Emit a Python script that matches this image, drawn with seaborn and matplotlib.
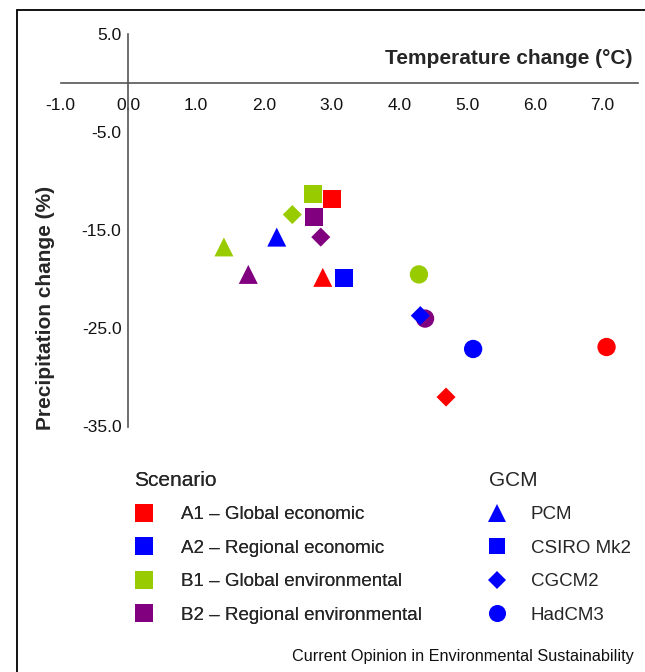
import matplotlib
matplotlib.use("Agg")
import matplotlib.pyplot as plt
from matplotlib.lines import Line2D
import seaborn as sns
import pandas as pd

# ---- data ----
scenarios = ["A1", "A2", "B1", "B2"]
scenario_labels = ["A1 – Global economic", "A2 – Regional economic",
                   "B1 – Global environmental", "B2 – Regional environmental"]
scenario_colors = ["#FF0000", "#0000FF", "#99CC00", "#800080"]
gcms = ["PCM", "CSIRO Mk2", "CGCM2", "HadCM3"]
gcm_markers = ["^", "s", "D", "o"]

# values ordered as gcms: PCM, CSIRO Mk2, CGCM2, HadCM3
temp_A1 = [2.87, 3.00, 4.69, 7.06]
precip_A1 = [-19.8, -11.8, -32.0, -26.9]
temp_A2 = [2.19, 3.19, 4.31, 5.09]
precip_A2 = [-15.7, -19.9, -23.7, -27.1]
temp_B1 = [1.41, 2.73, 2.42, 4.29]
precip_B1 = [-16.7, -11.3, -13.4, -19.5]
temp_B2 = [1.77, 2.74, 2.84, 4.38]
precip_B2 = [-19.5, -13.7, -15.7, -24.0]

x_ticks = [-1.0, 0.0, 1.0, 2.0, 3.0, 4.0, 5.0, 6.0, 7.0]
y_ticks = [5.0, -5.0, -15.0, -25.0, -35.0]

temps = {"A1": temp_A1, "A2": temp_A2, "B1": temp_B1, "B2": temp_B2}
precs = {"A1": precip_A1, "A2": precip_A2, "B1": precip_B1, "B2": precip_B2}
rows = []
for sc in scenarios:
    for g, t, p in zip(gcms, temps[sc], precs[sc]):
        rows.append({"scenario": sc, "gcm": g, "temp": t, "precip": p})
df = pd.DataFrame(rows)

# ---- style ----
sns.set_style("white")
plt.rcParams["font.family"] = ["Liberation Sans", "DejaVu Sans"]

W, H = 645, 672
fig = plt.figure(figsize=(W / 100, H / 100), dpi=100)
ax = fig.add_axes([60.7 / W, (H - 426.5) / H, (637.7 - 60.7) / W, 392.5 / H])

palette = dict(zip(scenarios, scenario_colors))
marker_sizes = {"PCM": 187, "CSIRO Mk2": 168, "CGCM2": 94, "HadCM3": 174}
# draw circles first so diamonds sit on top
for g, m in reversed(list(zip(gcms, gcm_markers))):
    sub = df[df["gcm"] == g]
    sns.scatterplot(data=sub, x="temp", y="precip", hue="scenario",
                    palette=palette, marker=m, s=marker_sizes[g],
                    linewidth=0, legend=False, ax=ax, zorder=3)

ax.set_xlim(-1.0, 7.52)
ax.set_ylim(-35.0, 5.0)
ax.set_facecolor("white")

axis_col = "#555555"
for side in ["top", "right"]:
    ax.spines[side].set_visible(False)
ax.spines["left"].set_position(("data", 0))
ax.spines["bottom"].set_position(("data", 0))
for side in ["left", "bottom"]:
    ax.spines[side].set_color(axis_col)
    ax.spines[side].set_linewidth(1.2)

ax.set_xticks(x_ticks)
ax.set_xticklabels([f"{v:.1f}" for v in x_ticks])
ax.set_yticks(y_ticks)
ax.set_yticklabels([f"{v:.1f}" for v in y_ticks])
ax.tick_params(axis="x", direction="out", length=4, width=1.1, color=axis_col,
               labelsize=12.5, pad=7, labelcolor="#111111")
ax.tick_params(axis="y", direction="out", length=4, width=1.1, color=axis_col,
               labelsize=12.5, pad=1, labelcolor="#111111")

ax.set_xlabel("Temperature change (°C)", fontsize=15, fontweight="bold",
              ha="right", va="center")
ax.xaxis.set_label_coords((633 - 60.7) / (637.7 - 60.7), (426.5 - 58) / 392.5)
ax.set_ylabel("Precipitation change (%)", fontsize=15, fontweight="bold",
              ha="center", va="center")
ax.yaxis.set_label_coords((45 - 60.7) / (637.7 - 60.7), (426.5 - 307.5) / 392.5)

# ---- legends ----
leg_top = 1 - 470.5 / H
sc_handles = [Line2D([], [], marker="s", linestyle="None", color=c,
                     markeredgewidth=0, markersize=12.3) for c in scenario_colors]
leg1 = fig.legend(sc_handles, scenario_labels, title="Scenario",
                  loc="upper left", bbox_to_anchor=(134 / W, leg_top),
                  frameon=False, fontsize=13.5, title_fontsize=15,
                  alignment="left", borderpad=0, borderaxespad=0,
                  handlelength=1.1, handletextpad=1.39, labelspacing=0.88)
fig.add_artist(leg1)

gcm_handle_sizes = {"^": 12.5, "s": 12.0, "D": 8.7, "o": 12.3}
gcm_handles = [Line2D([], [], marker=m, linestyle="None", color="#0000FF",
                      markeredgewidth=0, markersize=gcm_handle_sizes[m])
               for m in gcm_markers]
leg2 = fig.legend(gcm_handles, gcms, title="GCM",
                  loc="upper left", bbox_to_anchor=(489 / W, leg_top),
                  frameon=False, fontsize=13.5, title_fontsize=15,
                  alignment="left", borderpad=0, borderaxespad=0,
                  handlelength=0.85, handletextpad=1.39, labelspacing=0.88)

fig.text(633.5 / W, 1 - 656 / H,
         "Current Opinion in Environmental Sustainability",
         ha="right", va="center", fontsize=11.7, color="#111111")

# figure frame (top and left edges)
fig.add_artist(Line2D([17 / W, 1.0], [1 - 9.7 / H, 1 - 9.7 / H],
                      transform=fig.transFigure, color="black", lw=1.3))
fig.add_artist(Line2D([17 / W, 17 / W], [1 - 9.7 / H, 0.0],
                      transform=fig.transFigure, color="black", lw=1.3))

fig.savefig("out.png", dpi=100, facecolor="white")
